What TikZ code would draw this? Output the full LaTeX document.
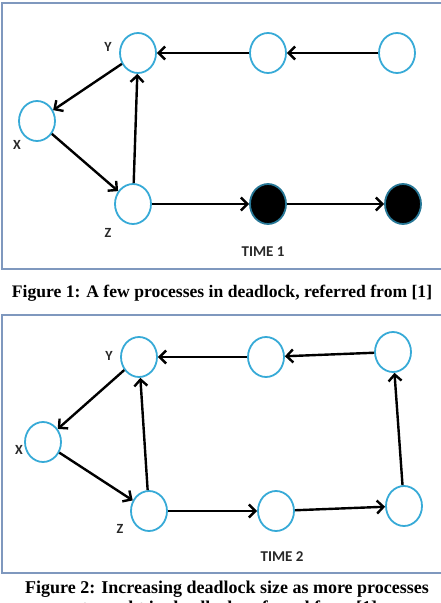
\documentclass[tikz,border=0pt]{standalone}
\usepackage{fontspec}
\setmainfont{Liberation Serif}
\setsansfont{Carlito}
\usepackage{xcolor}
\usepackage{tikz}
\usetikzlibrary{arrows.meta,shapes.geometric}

\definecolor{procblue}{RGB}{55,170,215}
\definecolor{framegray}{RGB}{127,152,190}
\definecolor{lblgray}{RGB}{40,40,40}

\begin{document}
\begin{tikzpicture}[x=1pt,y=-1pt,
    proc/.style={ellipse,draw=procblue,line width=1.8pt,fill=white,minimum width=36pt,minimum height=40pt,inner sep=0pt},
    held/.style={proc,fill=black,draw=procblue!70!black},
    lbl/.style={font=\sffamily\bfseries\fontsize{14}{14}\selectfont,text=lblgray,inner sep=0pt},
    tm/.style={font=\sffamily\bfseries\fontsize{15}{15}\selectfont,text=lblgray,inner sep=0pt},
    figcap/.style={font=\bfseries\fontsize{18}{21}\selectfont,anchor=base,inner sep=0pt},
    pane/.style={draw=framegray,line width=2pt},
    arr/.style={-{Straight Barb[length=6.5pt,width=13pt]},line width=2.4pt}
]
\useasboundingbox (0,0) rectangle (441,603);

% time 1
\draw[pane] (1.5,3) rectangle (450,269);
\node[proc] (y1) at (138,53) {};
\node[proc] (m1) at (268,53) {};
\node[proc] (r1) at (397,53) {};
\node[proc] (x1) at (37,121) {};
\node[proc] (z1) at (133,204) {};
\node[held] (b1) at (268,204) {};
\node[held] (c1) at (403,204) {};
\node[lbl] (ly1) at (108,47) {Y};
\node[lbl] (lx1) at (17,145) {X};
\node[lbl] (lz1) at (108,233) {Z};
\node[tm] (t1) at (263,252) {TIME 1};
\draw[arr] (y1) -- (x1);
\draw[arr] (x1) -- (z1);
\draw[arr] (z1) -- (y1);
\draw[arr] (m1) -- (y1);
\draw[arr] (r1) -- (m1);
\draw[arr] (z1) -- (b1);
\draw[arr] (b1) -- (c1);
\node[figcap,font=\bfseries\fontsize{17.6}{21}\selectfont] (f1) at (222,297) {Figure 1: A few processes in deadlock, referred from [1]};

% time 2
\draw[pane] (1.5,315) rectangle (450,573);
\node[proc] (y2) at (139,357) {};
\node[proc] (m2) at (266,357) {};
\node[proc] (r2) at (393,352) {};
\node[proc] (x2) at (43,442) {};
\node[proc] (z2) at (149,511) {};
\node[proc] (n2) at (276,511) {};
\node[proc] (s2) at (404,506) {};
\node[lbl] (ly2) at (109,356) {Y};
\node[lbl] (lx2) at (19,450) {X};
\node[lbl] (lz2) at (120,529) {Z};
\node[tm] (t2) at (282,557) {TIME 2};
\draw[arr] (y2) -- (x2);
\draw[arr] (x2) -- (z2);
\draw[arr] (z2) -- (y2);
\draw[arr] (m2) -- (y2);
\draw[arr] (r2) -- (m2);
\draw[arr] (z2) -- (n2);
\draw[arr] (n2) -- (s2);
\draw[arr] (s2) -- (r2);
\node[figcap] (f2) at (227,593) {Figure 2: Increasing deadlock size as more processes};
\node[figcap] (f3) at (221,613) {get caught in deadlock, referred from [1]};
\end{tikzpicture}
\end{document}
